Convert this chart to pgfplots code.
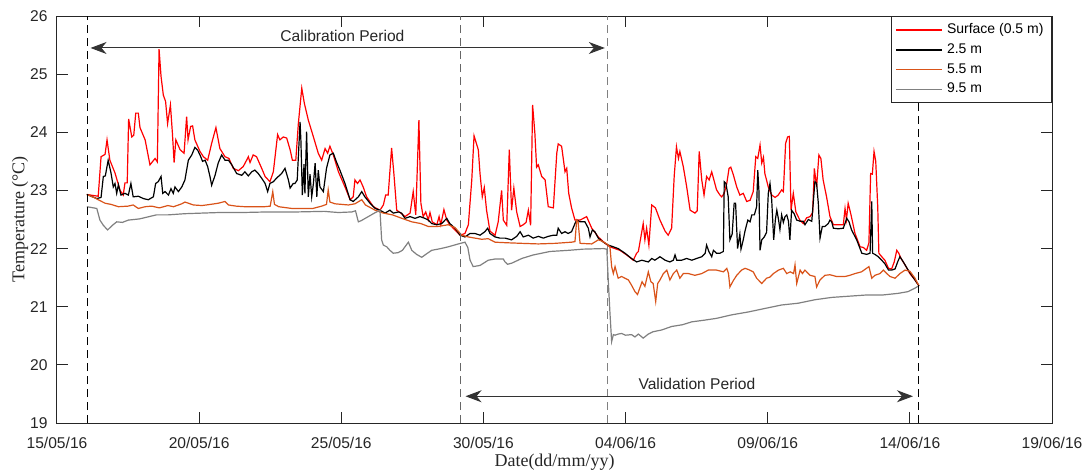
\documentclass[border=0pt]{standalone}
\usepackage{fontspec}
\setmainfont{Liberation Sans}
\newfontfamily\seriffont{Liberation Serif}
\usepackage{pgfplots}
\pgfplotsset{compat=1.18}
\usetikzlibrary{arrows.meta}
\definecolor{mred}{RGB}{255,0,0}
\definecolor{morange}{RGB}{217,83,25}
\definecolor{mgray}{RGB}{128,128,128}
\definecolor{txt}{RGB}{38,38,38}
\begin{document}
\begin{tikzpicture}
\begin{axis}[
  scale only axis, width=497.5pt, height=203.5pt,
  xmin=0, xmax=35, ymin=19, ymax=26,
  xtick={0,5,...,35},
  xticklabels={15/05/16,20/05/16,25/05/16,30/05/16,04/06/16,09/06/16,14/06/16,19/06/16},
  ytick={19,20,...,26},
  tick align=inside, major tick length=5.5pt,
  tick label style={font=\fontsize{7.8}{9}\selectfont, text=txt},
  xticklabel style={yshift=-3.4pt},
  yticklabel style={xshift=-1.2pt},
  /pgf/number format/assume math mode=true,
  xlabel={\seriffont Date(dd/mm/yy)},
  ylabel={\seriffont Temperature (°C)},
  label style={font=\fontsize{9}{10}\selectfont, text=txt},
  xlabel style={at={(axis description cs:0.5,-0.0958)}, anchor=center},
  ylabel style={at={(axis description cs:-0.0372,0.5)}, anchor=center},
  axis line style={line width=0.5pt, black!85},
  every tick/.style={black!85, line width=0.5pt},
  legend style={at={(1,1)}, anchor=north east, draw=black!85, line width=0.5pt,
    font=\fontsize{7}{8}\selectfont, cells={anchor=west},
    inner xsep=2pt, inner ysep=1.5pt, row sep=-0.5pt},
  every axis plot/.append style={line width=0.6pt},
]
\addlegendimage{mred, line width=0.7pt, legend image code/.code={\draw[mred, line width=0.7pt] (0pt,0pt) -- (23pt,0pt);}}
\addlegendentry{Surface (0.5 m)}
\addlegendimage{black, line width=0.7pt, legend image code/.code={\draw[black, line width=0.6pt] (0pt,0pt) -- (23pt,0pt);}}
\addlegendentry{2.5 m}
\addlegendimage{morange, line width=0.7pt, legend image code/.code={\draw[morange, line width=0.7pt] (0pt,0pt) -- (23pt,0pt);}}
\addlegendentry{5.5 m}
\addlegendimage{mgray, line width=0.7pt, legend image code/.code={\draw[mgray, line width=0.7pt] (0pt,0pt) -- (23pt,0pt);}}
\addlegendentry{9.5 m}
% Surface (0.5 m)
\addplot[mred, forget plot] coordinates {
(1.05,22.93) (1.45,22.90) (1.55,23.58) (1.69,23.62) (1.76,23.87) (1.86,23.52) (2.04,23.30) (2.22,23.00) (2.33,22.92) (2.39,23.13) (2.47,23.13) (2.52,24.23) (2.63,23.92) (2.70,23.95) (2.77,24.33) (2.86,24.33) (2.92,24.08) (3.10,23.87) (3.27,23.44) (3.45,23.55) (3.53,23.49) (3.59,25.43) (3.66,24.96) (3.74,24.64) (3.82,24.53) (3.89,24.15) (3.99,24.47) (4.06,23.98) (4.12,23.48) (4.18,23.87) (4.33,23.70) (4.47,23.64) (4.56,24.27) (4.61,23.87) (4.70,24.10) (4.77,24.11) (4.85,23.87) (5.03,23.67) (5.15,23.58) (5.30,23.52) (5.44,23.81) (5.59,24.08) (5.73,23.72) (5.91,23.58) (6.05,23.55) (6.20,23.38) (6.38,23.34) (6.55,23.41) (6.67,23.52) (6.73,23.58) (6.79,23.48) (6.90,23.61) (7.02,23.58) (7.20,23.38) (7.32,23.24) (7.49,23.15) (7.61,23.32) (7.76,23.96) (7.84,23.87) (7.96,23.92) (8.08,23.90) (8.20,23.70) (8.28,23.52) (8.40,23.52) (8.49,24.15) (8.61,24.76) (8.70,24.50) (8.84,24.21) (9.02,23.92) (9.19,23.64) (9.31,23.52) (9.43,23.72) (9.52,23.64) (9.60,23.76) (9.72,23.61) (9.90,23.32) (10.13,23.06) (10.31,22.84) (10.42,22.89) (10.48,23.18) (10.57,23.12) (10.66,23.18) (10.77,23.06) (10.89,22.89) (11.13,22.72) (11.36,22.66) (11.48,22.75) (11.56,22.92) (11.65,22.92) (11.77,23.73) (11.85,23.29) (11.95,22.66) (12.10,22.61) (12.24,22.55) (12.42,22.61) (12.53,22.98) (12.62,22.58) (12.73,24.21) (12.80,22.78) (12.88,22.55) (12.97,22.63) (13.06,22.49) (13.12,22.62) (13.20,22.46) (13.36,22.41) (13.44,22.55) (13.50,22.41) (13.61,22.67) (13.71,22.49) (13.82,22.41) (14.00,22.32) (14.18,22.23) (14.35,22.26) (14.47,22.41) (14.59,23.18) (14.67,23.94) (14.82,23.70) (14.88,23.29) (14.96,22.89) (15.03,23.05) (15.11,22.66) (15.23,22.30) (15.41,22.23) (15.52,22.46) (15.64,23.00) (15.70,22.49) (15.82,22.40) (15.91,23.70) (15.99,22.66) (16.07,23.04) (16.17,22.63) (16.29,22.38) (16.40,22.41) (16.50,22.45) (16.58,22.66) (16.66,22.40) (16.73,24.47) (16.81,23.98) (16.87,23.40) (16.93,23.44) (17.05,23.24) (17.17,23.18) (17.28,22.72) (17.46,22.70) (17.58,23.64) (17.63,23.80) (17.75,23.76) (17.87,23.32) (17.93,23.38) (18.00,22.95) (18.10,22.70) (18.22,22.49) (18.40,22.49) (18.63,22.55) (18.81,22.35) (19.04,22.20) (19.28,22.09) (19.45,22.03) (19.80,21.97) (20.04,21.89) (20.27,21.80) (20.39,21.92) (20.45,21.95) (20.62,22.43) (20.68,22.15) (20.74,22.35) (20.82,22.06) (20.92,22.75) (21.05,22.70) (21.21,22.49) (21.39,22.30) (21.50,22.23) (21.62,22.35) (21.71,23.24) (21.79,23.75) (21.86,23.55) (21.91,23.67) (22.03,23.41) (22.15,23.06) (22.27,22.66) (22.44,22.61) (22.52,22.65) (22.59,23.67) (22.68,23.18) (22.76,22.92) (22.85,23.24) (22.94,23.18) (23.03,23.32) (23.20,23.01) (23.32,22.92) (23.38,22.89) (23.47,22.95) (23.56,23.12) (23.64,23.38) (23.70,23.40) (23.79,23.27) (23.91,23.06) (24.02,22.92) (24.14,22.95) (24.26,22.81) (24.38,22.83) (24.49,22.98) (24.58,23.58) (24.65,23.55) (24.73,23.78) (24.79,23.47) (24.85,23.57) (24.90,23.29) (25.02,23.06) (25.14,22.92) (25.26,22.88) (25.37,22.92) (25.49,23.01) (25.55,22.98) (25.63,23.81) (25.70,23.92) (25.76,23.93) (25.82,22.66) (25.90,22.95) (25.99,22.63) (26.13,22.49) (26.25,22.43) (26.37,22.53) (26.49,22.55) (26.58,22.62) (26.64,23.38) (26.72,23.06) (26.80,23.61) (26.87,23.55) (26.95,23.18) (27.07,22.89) (27.19,22.55) (27.31,22.41) (27.66,22.41) (27.72,22.69) (27.77,22.50) (27.83,22.78) (27.93,22.58) (28.07,22.26) (28.25,22.03) (28.36,22.02) (28.48,21.97) (28.56,22.10) (28.62,23.29) (28.68,23.28) (28.74,23.67) (28.80,23.50) (28.87,22.72) (28.91,21.92) (29.01,21.86) (29.12,21.80) (29.25,21.66) (29.36,21.65) (29.45,21.77) (29.54,21.97) (29.61,21.92) (29.69,21.83) (29.83,21.72) (30.00,21.57) (30.18,21.46) (30.32,21.36)
};
% 2.5 m
\addplot[black, forget plot] coordinates {
(1.05,22.93) (1.20,22.90) (1.40,22.86) (1.55,22.88) (1.63,23.24) (1.70,23.25) (1.80,23.52) (1.90,23.30) (1.98,23.06) (2.04,23.12) (2.10,22.95) (2.16,23.10) (2.25,22.92) (2.39,22.95) (2.51,22.92) (2.60,23.12) (2.68,22.89) (2.86,22.90) (3.04,22.86) (3.21,22.84) (3.39,22.89) (3.47,23.12) (3.56,23.15) (3.66,23.24) (3.72,22.95) (3.80,22.98) (3.92,22.92) (4.01,23.03) (4.09,22.95) (4.15,23.06) (4.27,22.98) (4.39,23.06) (4.50,23.18) (4.62,23.52) (4.74,23.61) (4.85,23.74) (4.95,23.69) (5.03,23.61) (5.12,23.50) (5.21,23.52) (5.30,23.41) (5.38,23.24) (5.44,23.09) (5.56,23.26) (5.67,23.47) (5.79,23.61) (5.91,23.52) (6.03,23.52) (6.15,23.44) (6.32,23.29) (6.50,23.26) (6.61,23.32) (6.73,23.25) (6.85,23.32) (6.96,23.35) (7.08,23.29) (7.20,23.21) (7.32,23.12) (7.41,22.98) (7.49,23.12) (7.61,23.15) (7.72,23.21) (7.90,23.29) (8.02,23.38) (8.14,23.18) (8.20,23.04) (8.31,23.12) (8.37,23.12) (8.45,23.18) (8.55,24.18) (8.58,23.85) (8.63,22.92) (8.69,23.45) (8.72,22.95) (8.78,24.01) (8.84,22.89) (8.90,23.28) (8.96,22.89) (9.02,23.12) (9.08,23.47) (9.14,22.89) (9.19,23.35) (9.25,23.06) (9.37,22.98) (9.48,23.38) (9.60,23.61) (9.72,23.64) (9.83,23.49) (9.95,23.35) (10.13,23.12) (10.31,22.84) (10.42,22.81) (10.60,22.89) (10.72,22.98) (10.83,22.89) (11.01,22.78) (11.19,22.69) (11.36,22.66) (11.54,22.61) (11.71,22.66) (11.83,22.61) (12.01,22.63) (12.12,22.61) (12.24,22.52) (12.42,22.55) (12.59,22.52) (12.77,22.55) (12.94,22.52) (13.06,22.49) (13.18,22.43) (13.36,22.41) (13.53,22.43) (13.71,22.52) (13.82,22.43) (14.00,22.35) (14.18,22.23) (14.35,22.20) (14.53,22.26) (14.70,22.26) (14.88,22.23) (15.05,22.29) (15.15,22.35) (15.23,22.26) (15.41,22.20) (15.58,22.18) (15.76,22.18) (15.99,22.15) (16.17,22.21) (16.29,22.29) (16.40,22.20) (16.58,22.23) (16.75,22.18) (16.93,22.21) (17.11,22.18) (17.28,22.21) (17.46,22.23) (17.58,22.23) (17.63,22.35) (17.75,22.26) (17.87,22.29) (17.98,22.26) (18.10,22.29) (18.22,22.43) (18.28,22.49) (18.40,22.46) (18.57,22.46) (18.69,22.35) (18.75,22.20) (18.83,22.32) (18.92,22.29) (19.04,22.18) (19.22,22.11) (19.39,22.06) (19.57,22.03) (19.74,22.00) (19.98,21.92) (20.21,21.83) (20.39,21.77) (20.57,21.80) (20.80,21.77) (20.92,21.83) (21.03,21.80) (21.21,21.86) (21.39,21.80) (21.56,21.77) (21.68,21.80) (21.74,21.89) (21.80,21.80) (21.97,21.80) (22.15,21.83) (22.33,21.80) (22.50,21.83) (22.68,21.86) (22.80,21.92) (22.85,22.06) (22.93,21.95) (23.03,21.86) (23.09,21.97) (23.20,21.92) (23.32,21.92) (23.44,21.95) (23.47,23.15) (23.53,23.12) (23.61,22.89) (23.67,22.15) (23.75,22.25) (23.82,22.78) (23.87,22.78) (23.94,22.00) (24.02,22.25) (24.06,21.99) (24.14,22.15) (24.20,22.30) (24.30,22.49) (24.38,22.46) (24.44,22.58) (24.53,22.58) (24.61,22.72) (24.65,23.35) (24.69,23.00) (24.73,21.97) (24.79,22.15) (24.88,22.20) (24.96,22.28) (25.02,22.95) (25.08,23.12) (25.14,22.84) (25.21,22.15) (25.27,22.50) (25.32,22.66) (25.38,22.50) (25.43,22.33) (25.49,22.58) (25.55,22.45) (25.61,22.55) (25.67,22.58) (25.73,22.47) (25.78,22.15) (25.84,22.66) (25.93,22.60) (26.02,22.49) (26.14,22.47) (26.25,22.47) (26.31,22.41) (26.43,22.50) (26.55,22.47) (26.66,23.15) (26.72,23.12) (26.78,22.78) (26.84,22.18) (26.92,22.38) (27.01,22.38) (27.13,22.43) (27.19,22.49) (27.25,22.46) (27.31,22.35) (27.48,22.34) (27.66,22.35) (27.78,22.52) (27.86,22.46) (27.95,22.32) (28.13,22.15) (28.31,21.92) (28.48,21.90) (28.60,21.92) (28.66,22.81) (28.69,21.92) (28.77,21.90) (28.89,21.86) (29.01,21.80) (29.12,21.74) (29.25,21.63) (29.36,21.63) (29.48,21.65) (29.57,21.77) (29.65,21.86) (29.77,21.77) (29.94,21.63) (30.18,21.46) (30.32,21.36)
};
% 5.5 m
\addplot[morange, forget plot] coordinates {
(1.05,22.93) (1.30,22.88) (1.45,22.84) (1.69,22.78) (1.90,22.76) (2.16,22.72) (2.50,22.73) (2.68,22.75) (2.86,22.69) (3.10,22.72) (3.33,22.73) (3.60,22.70) (3.90,22.74) (4.10,22.72) (4.39,22.77) (4.50,22.80) (4.80,22.75) (5.10,22.74) (5.40,22.76) (5.67,22.78) (5.91,22.81) (6.03,22.75) (6.30,22.73) (6.61,22.72) (7.00,22.72) (7.30,22.72) (7.50,22.73) (7.59,22.98) (7.65,22.76) (7.80,22.72) (8.26,22.69) (8.60,22.69) (9.00,22.69) (9.31,22.73) (9.48,22.76) (9.54,23.01) (9.60,22.80) (9.78,22.77) (10.25,22.75) (10.48,22.77) (10.72,22.84) (10.85,22.75) (11.19,22.66) (11.48,22.61) (11.80,22.58) (12.13,22.52) (12.48,22.46) (12.80,22.43) (13.06,22.38) (13.40,22.38) (13.76,22.41) (14.00,22.36) (14.24,22.23) (14.47,22.20) (14.70,22.18) (14.94,22.16) (15.17,22.17) (15.41,22.11) (15.82,22.10) (16.35,22.09) (16.93,22.08) (17.52,22.09) (18.10,22.11) (18.22,22.12) (18.28,22.49) (18.33,22.46) (18.40,22.09) (18.81,22.08) (19.04,22.15) (19.16,22.13) (19.34,22.08) (19.45,22.03) (19.51,21.69) (19.57,21.57) (19.63,21.69) (19.74,21.49) (19.86,21.52) (19.98,21.49) (20.10,21.46) (20.21,21.37) (20.33,21.26) (20.42,21.21) (20.50,21.32) (20.58,21.43) (20.68,21.35) (20.80,21.60) (20.89,21.43) (20.97,21.40) (21.06,21.09) (21.13,21.40) (21.21,21.46) (21.33,21.57) (21.45,21.63) (21.56,21.46) (21.68,21.57) (21.80,21.63) (21.91,21.49) (22.03,21.57) (22.21,21.57) (22.44,21.54) (22.68,21.57) (22.91,21.63) (23.20,21.63) (23.44,21.60) (23.56,21.66) (23.62,21.57) (23.67,21.34) (23.79,21.45) (23.91,21.54) (24.08,21.63) (24.20,21.66) (24.32,21.64) (24.49,21.60) (24.61,21.49) (24.79,21.40) (24.96,21.49) (25.08,21.51) (25.20,21.57) (25.38,21.63) (25.55,21.66) (25.67,21.57) (25.79,21.60) (25.91,21.57) (25.96,21.72) (26.02,21.40) (26.14,21.63) (26.22,21.57) (26.31,21.63) (26.49,21.54) (26.66,21.52) (26.72,21.34) (26.84,21.46) (27.01,21.54) (27.19,21.55) (27.42,21.52) (27.72,21.52) (27.89,21.54) (28.07,21.57) (28.30,21.60) (28.56,21.69) (28.66,21.49) (28.77,21.54) (28.95,21.57) (29.07,21.63) (29.19,21.57) (29.30,21.52) (29.48,21.49) (29.65,21.57) (29.83,21.63) (30.00,21.61) (30.18,21.49) (30.32,21.36)
};
% 9.5 m
\addplot[mgray, forget plot] coordinates {
(1.05,22.72) (1.40,22.69) (1.51,22.49) (1.63,22.40) (1.78,22.32) (1.95,22.40) (2.10,22.46) (2.30,22.45) (2.51,22.49) (2.90,22.51) (3.33,22.56) (3.50,22.58) (3.92,22.58) (4.50,22.60) (5.09,22.61) (5.70,22.62) (6.50,22.62) (7.40,22.63) (8.43,22.63) (9.40,22.64) (9.90,22.62) (10.37,22.63) (10.50,22.65) (10.60,22.46) (10.70,22.48) (10.95,22.55) (11.20,22.62) (11.36,22.66) (11.42,22.15) (11.48,22.06) (11.60,22.03) (11.71,21.97) (11.83,21.92) (12.00,21.93) (12.15,21.97) (12.36,22.11) (12.48,21.97) (12.65,21.90) (12.83,21.85) (13.00,21.91) (13.18,21.97) (13.50,22.00) (13.76,22.03) (14.12,22.08) (14.35,22.11) (14.45,22.02) (14.53,21.80) (14.64,21.69) (14.88,21.71) (15.17,21.80) (15.40,21.82) (15.70,21.82) (15.76,21.77) (15.85,21.73) (16.00,21.75) (16.35,21.83) (16.75,21.89) (17.34,21.95) (18.00,21.97) (18.50,21.99) (19.22,22.00) (19.34,21.99) (19.39,21.46) (19.45,20.90) (19.51,20.40) (19.57,20.52) (19.63,20.51) (19.74,20.53) (19.86,20.54) (20.00,20.51) (20.21,20.52) (20.33,20.48) (20.45,20.53) (20.62,20.46) (20.80,20.53) (20.97,20.57) (21.27,20.60) (21.62,20.66) (22.00,20.69) (22.33,20.74) (22.79,20.77) (23.20,20.80) (23.73,20.86) (24.32,20.91) (24.90,20.97) (25.49,21.03) (26.07,21.06) (26.66,21.12) (27.25,21.16) (27.83,21.18) (28.42,21.20) (29.01,21.20) (29.59,21.23) (29.94,21.26) (30.18,21.32) (30.32,21.36)
};
% period boundaries
\addplot[black, line width=0.5pt, dash pattern=on 4pt off 2.5pt, forget plot] coordinates {(1.09,19) (1.09,26)};
\addplot[black!60, line width=0.5pt, dash pattern=on 4pt off 2.5pt, forget plot] coordinates {(14.19,19) (14.19,26)};
\addplot[black!50, line width=0.5pt, dash pattern=on 4pt off 2.5pt, forget plot] coordinates {(19.38,19) (19.38,26)};
\addplot[black, line width=0.5pt, dash pattern=on 4pt off 2.5pt, forget plot] coordinates {(30.32,19) (30.32,26)};
% arrows and labels
\draw[black!80, line width=0.5pt, {Stealth[length=8pt,width=6pt,inset=2.5pt]}-{Stealth[length=8pt,width=6pt,inset=2.5pt]}] (axis cs:1.18,25.45) -- (axis cs:19.27,25.45);
\node[font=\fontsize{7.8}{9}\selectfont, text=txt] at (axis cs:10.04,25.65) {Calibration Period};
\draw[black!80, line width=0.5pt, {Stealth[length=8pt,width=6pt,inset=2.5pt]}-{Stealth[length=8pt,width=6pt,inset=2.5pt]}] (axis cs:14.37,19.46) -- (axis cs:30.11,19.46);
\node[font=\fontsize{7.8}{9}\selectfont, text=txt] at (axis cs:22.51,19.67) {Validation Period};
\end{axis}
\pgfresetboundingbox
\useasboundingbox (-28.5pt,-24.5pt) rectangle (517pt,211.5pt);
\end{tikzpicture}
\end{document}
